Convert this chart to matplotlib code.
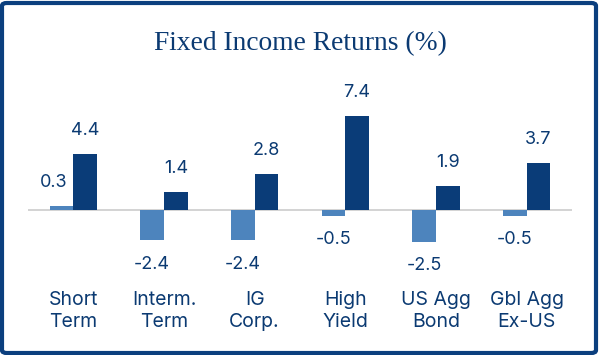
import numpy as np
import matplotlib.pyplot as plt
from matplotlib.patches import FancyBboxPatch

categories = ["Short\nTerm", "Interm.\nTerm", "IG\nCorp.", "High\nYield", "US Agg\nBond", "Gbl Agg\nEx-US"]
series_a = [0.3, -2.4, -2.4, -0.5, -2.5, -0.5]
series_b = [4.4, 1.4, 2.8, 7.4, 1.9, 3.7]

navy = "#0a3c78"
light = "#4d84bd"
text_col = "#0b3a72"

fig = plt.figure(figsize=(6, 3.55), dpi=100)
# axes placed in pixels: x 28..572, y 95..275 (from top)
ax = fig.add_axes([28/600, (355-275)/355, 544/600, 180/355])
ax.set_xlim(-0.5, 5.5)
ax.set_ylim(-65/12.7, 115/12.7)
ax.axis("off")

x = np.arange(len(categories))
w = 0.26
ax.bar(x - w/2, series_a, w, color=light, zorder=2)
ax.bar(x + w/2, series_b, w, color=navy, zorder=2)
ax.axhline(0, color="#d0d0d0", lw=1.3, zorder=1)

lab_font = "Inter"
for xs, vals, light_series in ((x - w/2, series_a, True), (x + w/2, series_b, False)):
    for xi, v in zip(xs, vals):
        off = 17 if v >= 0 else -17
        dx = -6 if (light_series and v >= 0) else 0
        ax.annotate(f"{v:.1f}", (xi, v), xytext=(dx, off), textcoords="offset points",
                    ha="center", va="center", fontsize=13, color=text_col, family=lab_font)

for xi, c in zip(x, categories):
    ax.annotate(c, (xi, 0), xytext=(0, -73), textcoords="offset points",
                ha="center", va="center", fontsize=14, color=text_col,
                family=lab_font, linespacing=1.3, annotation_clip=False)

fig.text(0.5, 1 - 44/355, "Fixed Income Returns (%)", ha="center", va="center",
         fontsize=19.8, color=text_col, family="Liberation Serif")

frame = FancyBboxPatch((2/600, 2/355), 596/600 - 2/600, 352/355 - 2/355,
                       boxstyle="round,pad=0,rounding_size=0.008", transform=fig.transFigure,
                       fill=False, edgecolor="#0b3f7e", lw=3)
fig.patches.append(frame)

fig.savefig("out.png", dpi=100, facecolor="white")
